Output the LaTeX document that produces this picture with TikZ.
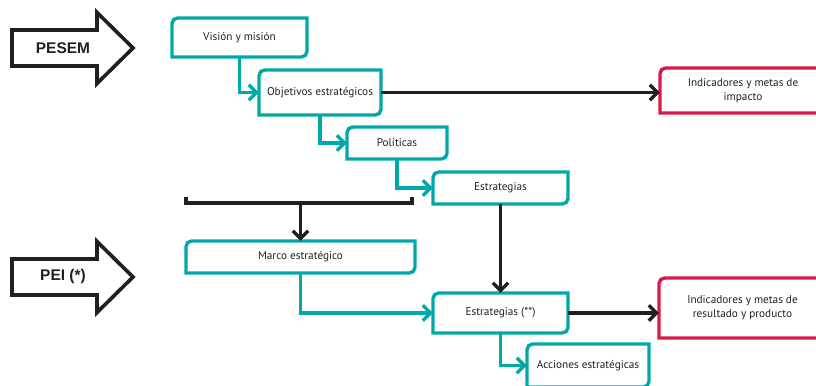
\documentclass[tikz,border=0pt]{standalone}
\usepackage{fontspec}
\setmainfont{PT Sans}
\newfontfamily\arrowfont{Liberation Sans}
\usetikzlibrary{arrows.meta, calc}

\definecolor{tealline}{RGB}{0,169,167}
\definecolor{crimson}{RGB}{215,25,75}
\definecolor{inkblack}{RGB}{35,31,32}

\begin{document}
\begin{tikzpicture}[
        x=0.025cm, y=-0.025cm,
        line width=2.4pt,
        stepbox/.style={inner sep=0pt, outer sep=0pt, align=center, text=inkblack, font=\fontsize{8}{10}\selectfont},
        flow/.style={draw=tealline, -{Straight Barb[length=5.5pt, width=11pt]}},
        link/.style={draw=inkblack, -{Straight Barb[length=5.5pt, width=11pt]}},
        bigarrow/.style={draw=inkblack, line width=2.6pt, miter limit=10},
    ]
    \useasboundingbox (0,0) rectangle (816,386);
    \clip (0,0) rectangle (816,386);

    % Draw the two level arrows
    \foreach \c/\name/\txt in {48/pesem/PESEM, 277/pei/{PEI (*)}} {
        \draw[bigarrow] (12,\c-18) -- (97,\c-18) -- (97,\c-35.5) -- (133,\c)
            -- (97,\c+35.5) -- (97,\c+18) -- (12,\c+18) -- cycle;
        \node[font=\arrowfont\bfseries\fontsize{11}{13}\selectfont, text=inkblack] (\name) at (63,\c) {\txt};
    }

    % Draw the PESEM boxes
    \node[stepbox, minimum width=3.375cm, minimum height=0.975cm] (vision) at (239.5,37.5) {Visión y misión};
    \node[stepbox, minimum width=3.05cm, minimum height=1.125cm] (objetivos) at (320,92.5) {Objetivos estratégicos};
    \node[stepbox, minimum width=2.5cm, minimum height=0.8cm] (politicas) at (397,143) {Políticas};
    \node[stepbox, minimum width=3.375cm, minimum height=0.8cm] (estrategias) at (500.5,188) {Estrategias};

    % Draw the PEI boxes
    \node[stepbox, minimum width=5.725cm, minimum height=0.8cm] (marco) at (300.5,257) {Marco estratégico};
    \node[stepbox, minimum width=3.375cm, minimum height=1.0cm] (estrategias2) at (500.5,313) {Estrategias (**)};
    \node[stepbox, minimum width=3.05cm, minimum height=1.075cm] (acciones) at (588,365.5) {Acciones estratégicas};

    % Draw the indicator boxes
    \node[stepbox, minimum width=4.15cm, minimum height=1.125cm] (impacto) at (743,90.5) {Indicadores y metas de\\impacto};
    \node[stepbox, minimum width=4.175cm, minimum height=1.5cm] (resultado) at (742.5,308) {Indicadores y metas de\\resultado y producto};

    % Outline every box, rounded at top left and bottom right
    \foreach \n/\col in {vision/tealline, objetivos/tealline, politicas/tealline, estrategias/tealline,
                         marco/tealline, estrategias2/tealline, acciones/tealline,
                         impacto/crimson, resultado/crimson}
        \draw[draw=\col] (\n.south west) -- ([yshift=-4pt]\n.north west)
            arc[start angle=180, end angle=90, radius=4pt] -- (\n.north east)
            -- ([yshift=4pt]\n.south east) arc[start angle=0, end angle=-90, radius=4pt] -- cycle;

    % Connect the steps
    \draw[flow] (vision.south) |- (objetivos.west);
    \draw[flow] (objetivos.south) |- (politicas.west);
    \draw[flow] (politicas.south) |- (estrategias.west);
    \draw[flow] (marco.south) |- (estrategias2.west);
    \draw[flow] (estrategias2.south) |- (acciones.west);

    % Bracket over the PEI frame
    \coordinate (brace-l) at (186,203);
    \coordinate (brace-r) at (412,203);
    \draw[draw=inkblack] ([yshift=4pt]brace-l) -- (brace-l) -- (brace-r) -- ([yshift=4pt]brace-r);
    \draw[link] (marco.north |- brace-l) -- (marco.north);

    % Connect to the indicators
    \draw[link] (objetivos.east) -- (objetivos.east -| impacto.west);
    \draw[link] (estrategias.south) -- (estrategias2.north);
    \draw[link] (estrategias2.east) -- (estrategias2.east -| resultado.west);
\end{tikzpicture}
\end{document}
